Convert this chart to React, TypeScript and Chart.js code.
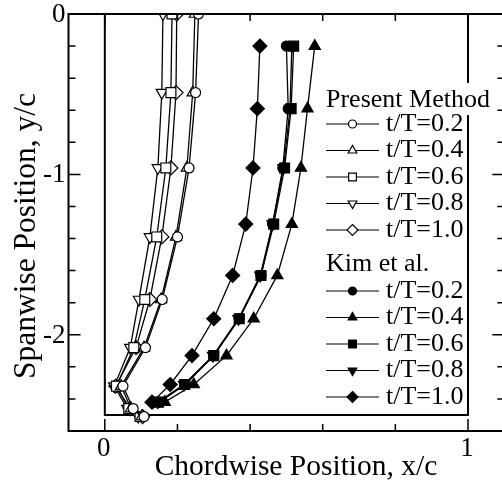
import React, { useEffect, useRef } from "react";
import { Chart, registerables } from "chart.js";

Chart.register(...registerables);

// Spanwise stations (y/c)
const presentSpan = [0, -0.49, -0.96, -1.39, -1.78, -2.08, -2.32, -2.46, -2.51];
const kimSpan = [-0.2, -0.59, -0.96, -1.31, -1.63, -1.9, -2.13, -2.31, -2.42];

// Chordwise positions (x/c), present method
const present02 = [0.258, 0.25, 0.232, 0.2, 0.158, 0.112, 0.05, 0.078, 0.108];
const present04 = [0.248, 0.242, 0.226, 0.196, 0.155, 0.108, 0.045, 0.072, 0.102];
const present06 = [0.185, 0.182, 0.168, 0.143, 0.11, 0.08, 0.032, 0.066, 0.097];
const present08 = [0.16, 0.157, 0.146, 0.124, 0.094, 0.07, 0.026, 0.062, 0.092];
const present10 = [0.198, 0.196, 0.182, 0.157, 0.124, 0.086, 0.03, 0.07, 0.104];

// Chordwise positions (x/c), Kim et al.
const kim02 = [0.5, 0.505, 0.49, 0.462, 0.43, 0.37, 0.3, 0.222, 0.15];
const kim04 = [0.578, 0.558, 0.54, 0.515, 0.475, 0.41, 0.335, 0.245, 0.165];
const kim06 = [0.52, 0.513, 0.495, 0.465, 0.43, 0.37, 0.3, 0.22, 0.148];
const kim08 = [0.515, 0.51, 0.492, 0.462, 0.428, 0.368, 0.298, 0.218, 0.146];
const kim10 = [0.427, 0.42, 0.408, 0.388, 0.352, 0.3, 0.24, 0.18, 0.13];

const timeLabels = ["t/T=0.2", "t/T=0.4", "t/T=0.6", "t/T=0.8", "t/T=1.0"];
const groupTitles = ["Present Method", "Kim et al."];

const xTickLabels = [0, 1];
const yTickLabels = [0, -1, -2];

const X_MIN = -0.1;
const X_MAX = 1.1;
const Y_MIN = -2.6;
const Y_MAX = 0;

// view size and a slightly wider canvas so the right frame edge falls just outside the view
const VIEW_W = 502;
const CANVAS_W = 516;
const CANVAS_H = 481;
const AREA_RIGHT = 504.3;

const FONT = '"Liberation Serif", "Times New Roman", serif';

type Marker = { style: string; rotation: number; radius: number; legendRadius: number };
const markers: Marker[] = [
  { style: "circle", rotation: 0, radius: 5, legendRadius: 4 },
  { style: "triangle", rotation: 0, radius: 6.5, legendRadius: 5 },
  { style: "rect", rotation: 0, radius: 7, legendRadius: 5.5 },
  { style: "triangle", rotation: 180, radius: 6.5, legendRadius: 5 },
  { style: "rectRot", rotation: 0, radius: 7, legendRadius: 5.5 },
];

const presentSeries = [present02, present04, present06, present08, present10];
const kimSeries = [kim02, kim04, kim06, kim08, kim10];

function toPoints(xs: number[], ys: number[]) {
  return xs.map((x, i) => ({ x, y: ys[i] }));
}

function drawMarker(
  ctx: CanvasRenderingContext2D,
  m: Marker,
  x: number,
  y: number,
  r: number,
  filled: boolean
) {
  ctx.save();
  ctx.beginPath();
  if (m.style === "circle") {
    ctx.arc(x, y, r, 0, Math.PI * 2);
  } else if (m.style === "triangle") {
    const rot = (m.rotation * Math.PI) / 180;
    for (let k = 0; k < 3; k++) {
      const a = rot - Math.PI / 2 + (k * 2 * Math.PI) / 3;
      const px = x + Math.cos(a) * r;
      const py = y + Math.sin(a) * r;
      if (k === 0) ctx.moveTo(px, py);
      else ctx.lineTo(px, py);
    }
    ctx.closePath();
  } else if (m.style === "rect") {
    const s = Math.SQRT1_2 * r;
    ctx.rect(x - s, y - s, 2 * s, 2 * s);
  } else {
    ctx.moveTo(x, y - r);
    ctx.lineTo(x + r, y);
    ctx.lineTo(x, y + r);
    ctx.lineTo(x - r, y);
    ctx.closePath();
  }
  ctx.fillStyle = filled ? "#000" : "#fff";
  ctx.fill();
  ctx.lineWidth = 1.2;
  ctx.strokeStyle = "#000";
  ctx.stroke();
  ctx.restore();
}

const framePlugin = {
  id: "frameAndLegend",
  beforeDatasetsDraw(chart: any) {
    const { ctx, scales } = chart;
    const xs = scales.x;
    const ys = scales.y;
    // planform outline
    ctx.save();
    ctx.strokeStyle = "#000";
    ctx.lineWidth = 2;
    ctx.beginPath();
    ctx.moveTo(xs.getPixelForValue(0), ys.getPixelForValue(0));
    ctx.lineTo(xs.getPixelForValue(0), ys.getPixelForValue(-2.5));
    ctx.lineTo(xs.getPixelForValue(1), ys.getPixelForValue(-2.5));
    ctx.lineTo(xs.getPixelForValue(1), ys.getPixelForValue(0));
    ctx.stroke();
    ctx.restore();
  },
  afterDraw(chart: any) {
    const { ctx, scales } = chart;
    const xs = scales.x;
    const ys = scales.y;
    const left = xs.getPixelForValue(X_MIN);
    const right = xs.getPixelForValue(X_MAX);
    const top = ys.getPixelForValue(Y_MAX);
    const bottom = ys.getPixelForValue(Y_MIN);

    ctx.save();
    // legend
    const lx0 = 326;
    const lx1 = 379;
    const tx = 386;
    ctx.font = `26px ${FONT}`;
    ctx.textBaseline = "middle";
    ctx.textAlign = "left";
    const groups = [
      { title: groupTitles[0], titleY: 100, firstY: 124, filled: false },
      { title: groupTitles[1], titleY: 264, firstY: 291, filled: true },
    ];
    groups.forEach((g, gi) => {
      if (gi === 0) {
        const w = ctx.measureText(g.title).width;
        ctx.fillStyle = "#fff";
        ctx.fillRect(lx0 - 2, g.titleY - 17, w + 6, 32);
      }
      ctx.fillStyle = "#000";
      ctx.fillText(g.title, lx0, g.titleY);
      timeLabels.forEach((lab, i) => {
        const yy = g.firstY + i * 26.5;
        ctx.strokeStyle = "#000";
        ctx.lineWidth = 1.2;
        ctx.beginPath();
        ctx.moveTo(lx0, yy);
        ctx.lineTo(lx1, yy);
        ctx.stroke();
        const m = markers[i];
        drawMarker(ctx, m, (lx0 + lx1) / 2, yy, m.legendRadius, g.filled);
        ctx.fillStyle = "#000";
        ctx.fillText(lab, tx, yy);
      });
    });

    // frame
    ctx.strokeStyle = "#000";
    ctx.lineWidth = 2;
    ctx.strokeRect(left, top, right - left, bottom - top);

    // inward ticks
    ctx.lineWidth = 1.5;
    for (let i = 0; i <= 5; i++) {
      const v = i * 0.2;
      const px = xs.getPixelForValue(v);
      const len = i === 0 || i === 5 ? 12 : 7;
      ctx.beginPath();
      ctx.moveTo(px, bottom);
      ctx.lineTo(px, bottom - len);
      ctx.moveTo(px, top);
      ctx.lineTo(px, top + len);
      ctx.stroke();
    }
    for (let i = 0; i <= 13; i++) {
      const v = -i * 0.2;
      const py = ys.getPixelForValue(v);
      const len = i % 5 === 0 ? 12 : 7;
      ctx.beginPath();
      ctx.moveTo(left, py);
      ctx.lineTo(left + len, py);
      ctx.moveTo(right, py);
      ctx.lineTo(right - len, py);
      ctx.stroke();
    }

    // tick labels
    ctx.fillStyle = "#000";
    ctx.font = `27px ${FONT}`;
    ctx.textAlign = "center";
    ctx.textBaseline = "top";
    xTickLabels.forEach((v) => {
      ctx.fillText(String(v), xs.getPixelForValue(v) - 1, bottom + 4);
    });
    ctx.textAlign = "right";
    ctx.textBaseline = "middle";
    yTickLabels.forEach((v) => {
      ctx.fillText(String(v), left - 3, ys.getPixelForValue(v) + 1);
    });

    // axis titles
    ctx.font = `29.5px ${FONT}`;
    ctx.textAlign = "center";
    ctx.textBaseline = "alphabetic";
    ctx.fillText("Chordwise Position, x/c", 296, 475);
    ctx.font = `31.5px ${FONT}`;
    ctx.translate(35, 236);
    ctx.rotate(-Math.PI / 2);
    ctx.fillText("Spanwise Position, y/c", 0, 0);
    ctx.restore();
  },
};

export default function App() {
  const canvasRef = useRef<HTMLCanvasElement | null>(null);

  useEffect(() => {
    if (!canvasRef.current) return;
    const makeSet = (xs: number[], ys: number[], i: number, filled: boolean) => ({
      label: timeLabels[i],
      data: toPoints(xs, ys),
      showLine: true,
      borderColor: "#000",
      borderWidth: 1.3,
      backgroundColor: filled ? "#000" : "#fff",
      pointBorderColor: "#000",
      pointBackgroundColor: filled ? "#000" : "#fff",
      pointBorderWidth: 1.2,
      pointStyle: markers[i].style,
      pointRotation: markers[i].rotation,
      pointRadius: markers[i].radius,
      pointHoverRadius: markers[i].radius,
      tension: 0,
      fill: false,
    });
    const datasets = [
      ...kimSeries.map((s, i) => makeSet(s, kimSpan, i, true)),
      ...presentSeries.map((s, i) => makeSet(s, presentSpan, i, false)),
    ];
    const chart = new Chart(canvasRef.current, {
      type: "scatter",
      data: { datasets },
      options: {
        animation: false,
        responsive: false,
        devicePixelRatio: 1,
        layout: {
          padding: { left: 68.5, top: 14, right: CANVAS_W - AREA_RIGHT, bottom: 50 },
        },
        plugins: { legend: { display: false }, tooltip: { enabled: false } },
        scales: {
          x: { type: "linear", min: X_MIN, max: X_MAX, display: false },
          y: { type: "linear", min: Y_MIN, max: Y_MAX, display: false },
        },
      },
      plugins: [framePlugin],
    });
    return () => chart.destroy();
  }, []);

  return (
    <div
      style={{
        position: "fixed",
        left: 0,
        top: 0,
        width: VIEW_W,
        height: CANVAS_H,
        overflow: "hidden",
        background: "#fff",
      }}
    >
      <div style={{ width: CANVAS_W, height: CANVAS_H }}>
        <canvas
          ref={canvasRef}
          width={CANVAS_W}
          height={CANVAS_H}
          style={{ display: "block", width: CANVAS_W, height: CANVAS_H }}
        />
      </div>
    </div>
  );
}
